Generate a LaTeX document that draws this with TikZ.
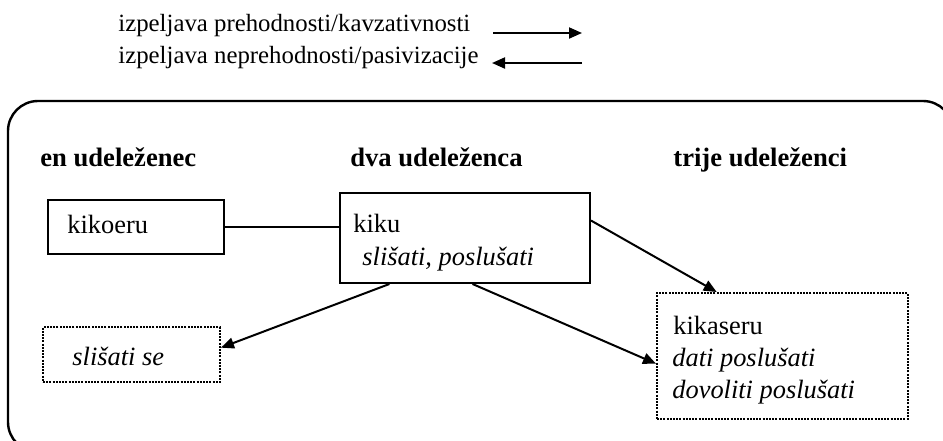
\documentclass[tikz,border=0pt]{standalone}
\usepackage{fontspec}
\setmainfont{Liberation Serif}
\usetikzlibrary{arrows.meta,calc}
\begin{document}
\begin{tikzpicture}[x=0.5pt,y=-0.5pt,
  legtxt/.style={inner sep=0pt, anchor=base west, font=\fontsize{12.4}{14}\selectfont},
  txt/.style={inner sep=0pt, anchor=base west, font=\fontsize{13.2}{15}\selectfont},
  head/.style={inner sep=0pt, anchor=base west, font=\fontsize{13.3}{15}\selectfont\bfseries},
  solidbox/.style={draw, line width=1pt, inner sep=0pt, anchor=north west},
  dotbox/.style={draw, line width=1pt, dash pattern=on 1pt off 0.6pt, inner sep=0pt, anchor=north west},
  link/.style={line width=1pt},
  derive/.style={line width=1pt, -{Triangle[length=6.5pt,width=5.5pt]}}]
\useasboundingbox (0,0) rectangle (943,440);

% outer frame, running past the page edge on the right and bottom
\begin{scope}
  \clip (0,0) rectangle (943,440);
  \draw[line width=1.2pt, rounded corners=15pt] (8,101) rectangle (953,452);
\end{scope}

% legend
\node[legtxt] (leg1) at (118,31) {izpeljava prehodnosti/kavzativnosti};
\node[legtxt] (leg2) at (118,63) {izpeljava neprehodnosti/pasivizacije};
\coordinate (l1s) at (493,33);
\coordinate (l1e) at (582,33);
\coordinate (l2s) at (582,63);
\coordinate (l2e) at (492,63);
\draw[derive] (l1s) -- (l1e);
\draw[derive] (l2s) -- (l2e);

% column headings
\node[head] (h1) at (40,166) {en udeleženec};
\node[head] (h2) at (350,166) {dva udeleženca};
\node[head] (h3) at (673,166) {trije udeleženci};

% boxes
\node[solidbox, minimum width=88pt, minimum height=27pt] (kikoeru) at (47,199) {};
\node[solidbox, minimum width=125pt, minimum height=45pt] (kiku) at (339,192) {};
\node[dotbox, minimum width=88.5pt, minimum height=27.5pt] (sebox) at (42,326) {};
\node[dotbox, minimum width=125.5pt, minimum height=63pt] (kasbox) at (656,292) {};

% box texts
\node[txt] (t1) at (67,233) {kikoeru};
\node[txt] (t2) at (353,232) {kiku};
\node[txt] (t3) at (362,265) {\itshape slišati, poslušati};
\node[txt] (t4) at (72,365) {\itshape slišati se};
\node[txt] (t5) at (673,334) {kikaseru};
\node[txt] (t6) at (672,366) {\itshape dati poslušati};
\node[txt] (t7) at (672,398) {\itshape dovoliti poslušati};

% connectors
\draw[link] (kikoeru.east) -- (kikoeru.east -| kiku.west);
\draw[derive] ($(kiku.south west)!0.2!(kiku.south east)$) -- ($(sebox.north east)!0.38!(sebox.south east)$);
\draw[derive] ($(kiku.south west)!0.53!(kiku.south east)$) -- ($(kasbox.north west)!0.56!(kasbox.south west)$);
\draw[derive] ($(kiku.north east)!0.31!(kiku.south east)$) -- ($(kasbox.north west)!0.24!(kasbox.north east)$);
\end{tikzpicture}
\end{document}
